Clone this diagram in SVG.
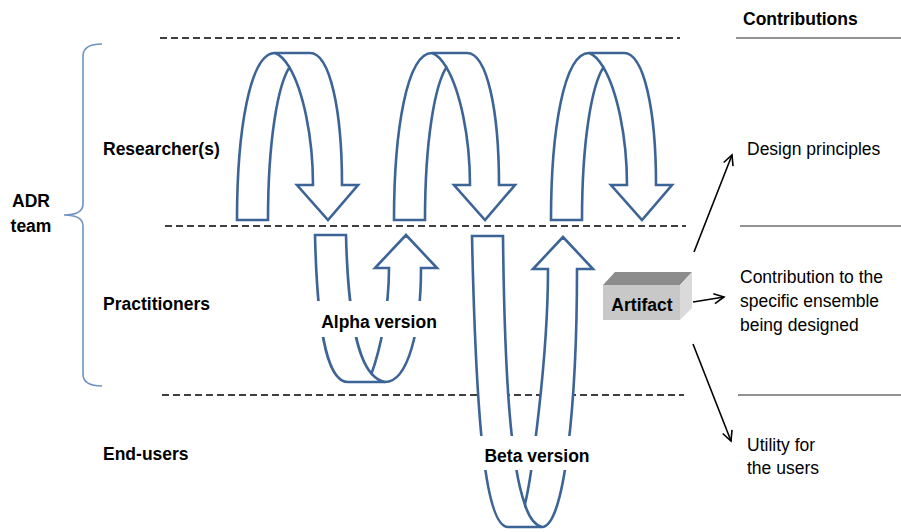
<svg xmlns="http://www.w3.org/2000/svg" width="901" height="532" viewBox="0 0 901 532">
<style>
  text { font-family: "Liberation Sans", Arial, sans-serif; font-size: 17.5px; fill: #000; }
  .b { font-weight: bold; }
  .dash { stroke: #000; stroke-width: 1.5; stroke-dasharray: 7 4; fill: none; }
  .rule { stroke: #6e6e6e; stroke-width: 1.3; fill: none; }
  .band { fill: #fff; stroke: #3c6497; stroke-width: 2.6; stroke-linejoin: miter; }
  .edge { fill: none; stroke: #3c6497; stroke-width: 2.6; }
  .brace { fill: none; stroke: #6f93c3; stroke-width: 1.6; }
  .conn { stroke: #000; stroke-width: 1.6; fill: none; marker-end: url(#chev); }
</style>
<defs>
  <marker id="chev" markerUnits="userSpaceOnUse" markerWidth="14" markerHeight="14" refX="11" refY="6" orient="auto" viewBox="0 0 14 12">
    <path d="M1,1 L11,6 L1,11" fill="none" stroke="#000" stroke-width="1.6"/>
  </marker>
  <g id="loop">
    <path class="band" d="M237,220 C237,130 250,53 275,53 L310,53 C330,53 342,110 342,185 L358,185 L328,220 L297,185 L313,185 C313,136.25 302.9,90.3 289.4,67.4 C278,85 268,140 268,220 Z"/>
    <path class="edge" d="M275,53 C280,54.75 284.9,59.8 289.4,67.4"/>
  </g>
</defs>
<rect width="901" height="532" fill="#fff"/>

<g id="lanes">
  <line class="dash" x1="160" y1="38" x2="680" y2="38"/>
  <line class="dash" x1="165" y1="226" x2="686" y2="226"/>
  <line class="dash" x1="162" y1="395" x2="684" y2="395"/>
  <line class="rule" x1="736" y1="38" x2="901" y2="38"/>
  <line class="rule" x1="740" y1="226" x2="901" y2="226"/>
  <line class="rule" x1="738" y1="395" x2="901" y2="395"/>
</g>

<g id="adr-team">
  <path class="brace" d="M102,44 Q83,44 83,56 L83,204 Q83,215 64,215 Q83,215 83,226 L83,374 Q83,386 102,386"/>
  <text class="b" x="31" y="207" text-anchor="middle">ADR</text>
  <text class="b" x="31" y="232" text-anchor="middle">team</text>
</g>

<g id="roles">
  <text class="b" x="103" y="155">Researcher(s)</text>
  <text class="b" x="103" y="310">Practitioners</text>
  <text class="b" x="103" y="460">End-users</text>
</g>

<g id="research-loop-1"><use href="#loop"/></g>
<g id="research-loop-2"><use href="#loop" transform="translate(157,0)"/></g>
<g id="research-loop-3"><use href="#loop" transform="translate(314,0)"/></g>

<g id="alpha-version">
  <path class="band" d="M315,235 L346,235 C347.6,303 355.6,356.1 371.5,373.6 C380,350 389,310 389,268 L375,268 L406,235 L437,268 L421,268 C421,330 408,382 385,382 L348,382 C325,382 317,320 315,235 Z"/>
  <path class="edge" d="M371.5,373.6 C375.5,378.2 380,381.2 385,382"/>
  <rect x="310" y="301" width="134" height="36" fill="#fff"/>
  <text class="b" x="379" y="328" text-anchor="middle">Alpha version</text>
</g>

<g id="beta-version">
  <path class="band" d="M472,236 L503,236 C504.5,374 510.5,464.75 524.9,504.45 C531,480 548,360 548,269 L533,269 L563,237 L593,269 L577,269 C577,400 565,527 542,527 L508,527 C485,527 476,420 472,236 Z"/>
  <path class="edge" d="M524.9,504.45 C529.06,517.69 535.25,525.25 542,527"/>
  <rect x="478" y="436" width="118" height="34" fill="#fff"/>
  <text class="b" x="537" y="462" text-anchor="middle">Beta version</text>
</g>

<g id="artifact">
  <polygon points="603,285 615,272 692,272 680,285" fill="#8c8c8c"/>
  <polygon points="680,285 692,272 692,308 680,320" fill="#dadada"/>
  <rect x="603" y="285" width="77" height="35" fill="#c8c8c8"/>
  <text class="b" x="642" y="311" text-anchor="middle">Artifact</text>
</g>

<g id="connectors">
  <line class="conn" x1="694" y1="252" x2="732" y2="155"/>
  <line class="conn" x1="693" y1="302" x2="724" y2="297"/>
  <line class="conn" x1="693" y1="344" x2="731" y2="441"/>
</g>

<g id="contributions">
  <text class="b" x="743" y="25">Contributions</text>
  <text x="747" y="155">Design principles</text>
  <text x="740" y="283">Contribution to the</text>
  <text x="740" y="307">specific ensemble</text>
  <text x="740" y="331">being designed</text>
  <text x="747" y="451">Utility for</text>
  <text x="747" y="474">the users</text>
</g>
</svg>
